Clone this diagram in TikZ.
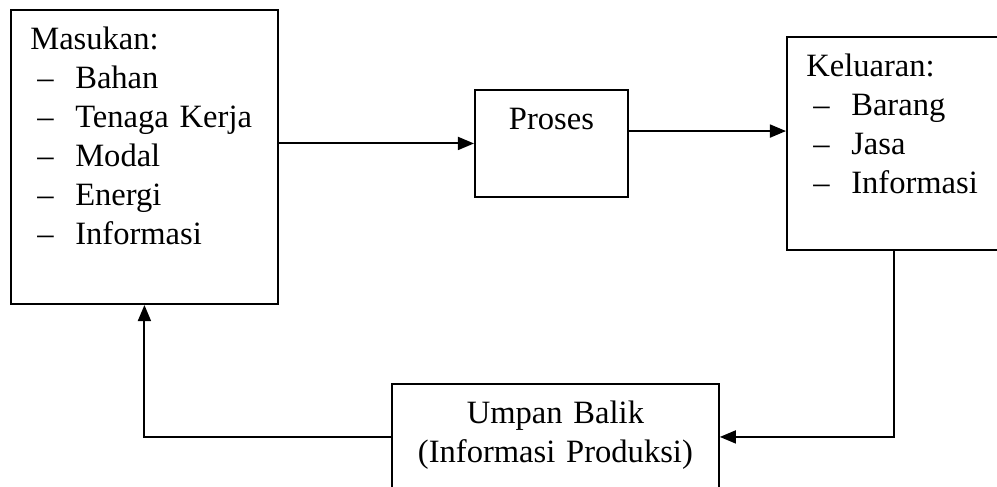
\documentclass[tikz,border=0pt]{standalone}
\usepackage{fontspec}
\setmainfont{Liberation Serif}
\usetikzlibrary{arrows.meta}

\newcommand{\butir}[1]{\hspace*{2.7pt}\makebox[14.7pt][l]{--}#1}

\begin{document}
\begin{tikzpicture}[x=0.387pt,y=-0.387pt,line width=0.75pt,
        >={Triangle[length=6.2pt,width=5pt]},
        blok/.style={draw, rectangle, anchor=north west, inner xsep=7.5pt, inner ysep=4.5pt,
                     text height=10.8pt, font=\fontsize{12.6}{15.1}\selectfont}]
        \clip (0,0) rectangle (997,487);

        \node (masukan) [blok, text width=88.3pt, text depth=94pt, align=left] at (10,9)
              {Masukan:\\ \butir{Bahan}\\ \butir{Tenaga Kerja}\\ \butir{Modal}\\ \butir{Energi}\\ \butir{Informasi}};
        \node (proses) [blok, text width=44.2pt, text depth=21.6pt, align=center] at (474,89) {Proses};
        \node (keluaran) [blok, text width=67.8pt, text depth=62.6pt, align=left] at (786,36)
              {Keluaran:\\ \butir{Barang}\\ \butir{Jasa}\\ \butir{Informasi}};
        \node (umpan) [blok, text width=111.5pt, text depth=21.2pt, align=center] at (391,383)
              {Umpan Balik\\ (Informasi Produksi)};

        \coordinate (pk) at ([yshift=4.8pt]proses.east);

        \draw[->] (masukan.east |- proses.west) -- (proses.west);
        \draw[->] (pk) -- (pk -| keluaran.west);
        \draw[->] (keluaran.south) |- (umpan.east);
        \draw[->] (umpan.west) -| (masukan.south);
    \end{tikzpicture}
\end{document}
